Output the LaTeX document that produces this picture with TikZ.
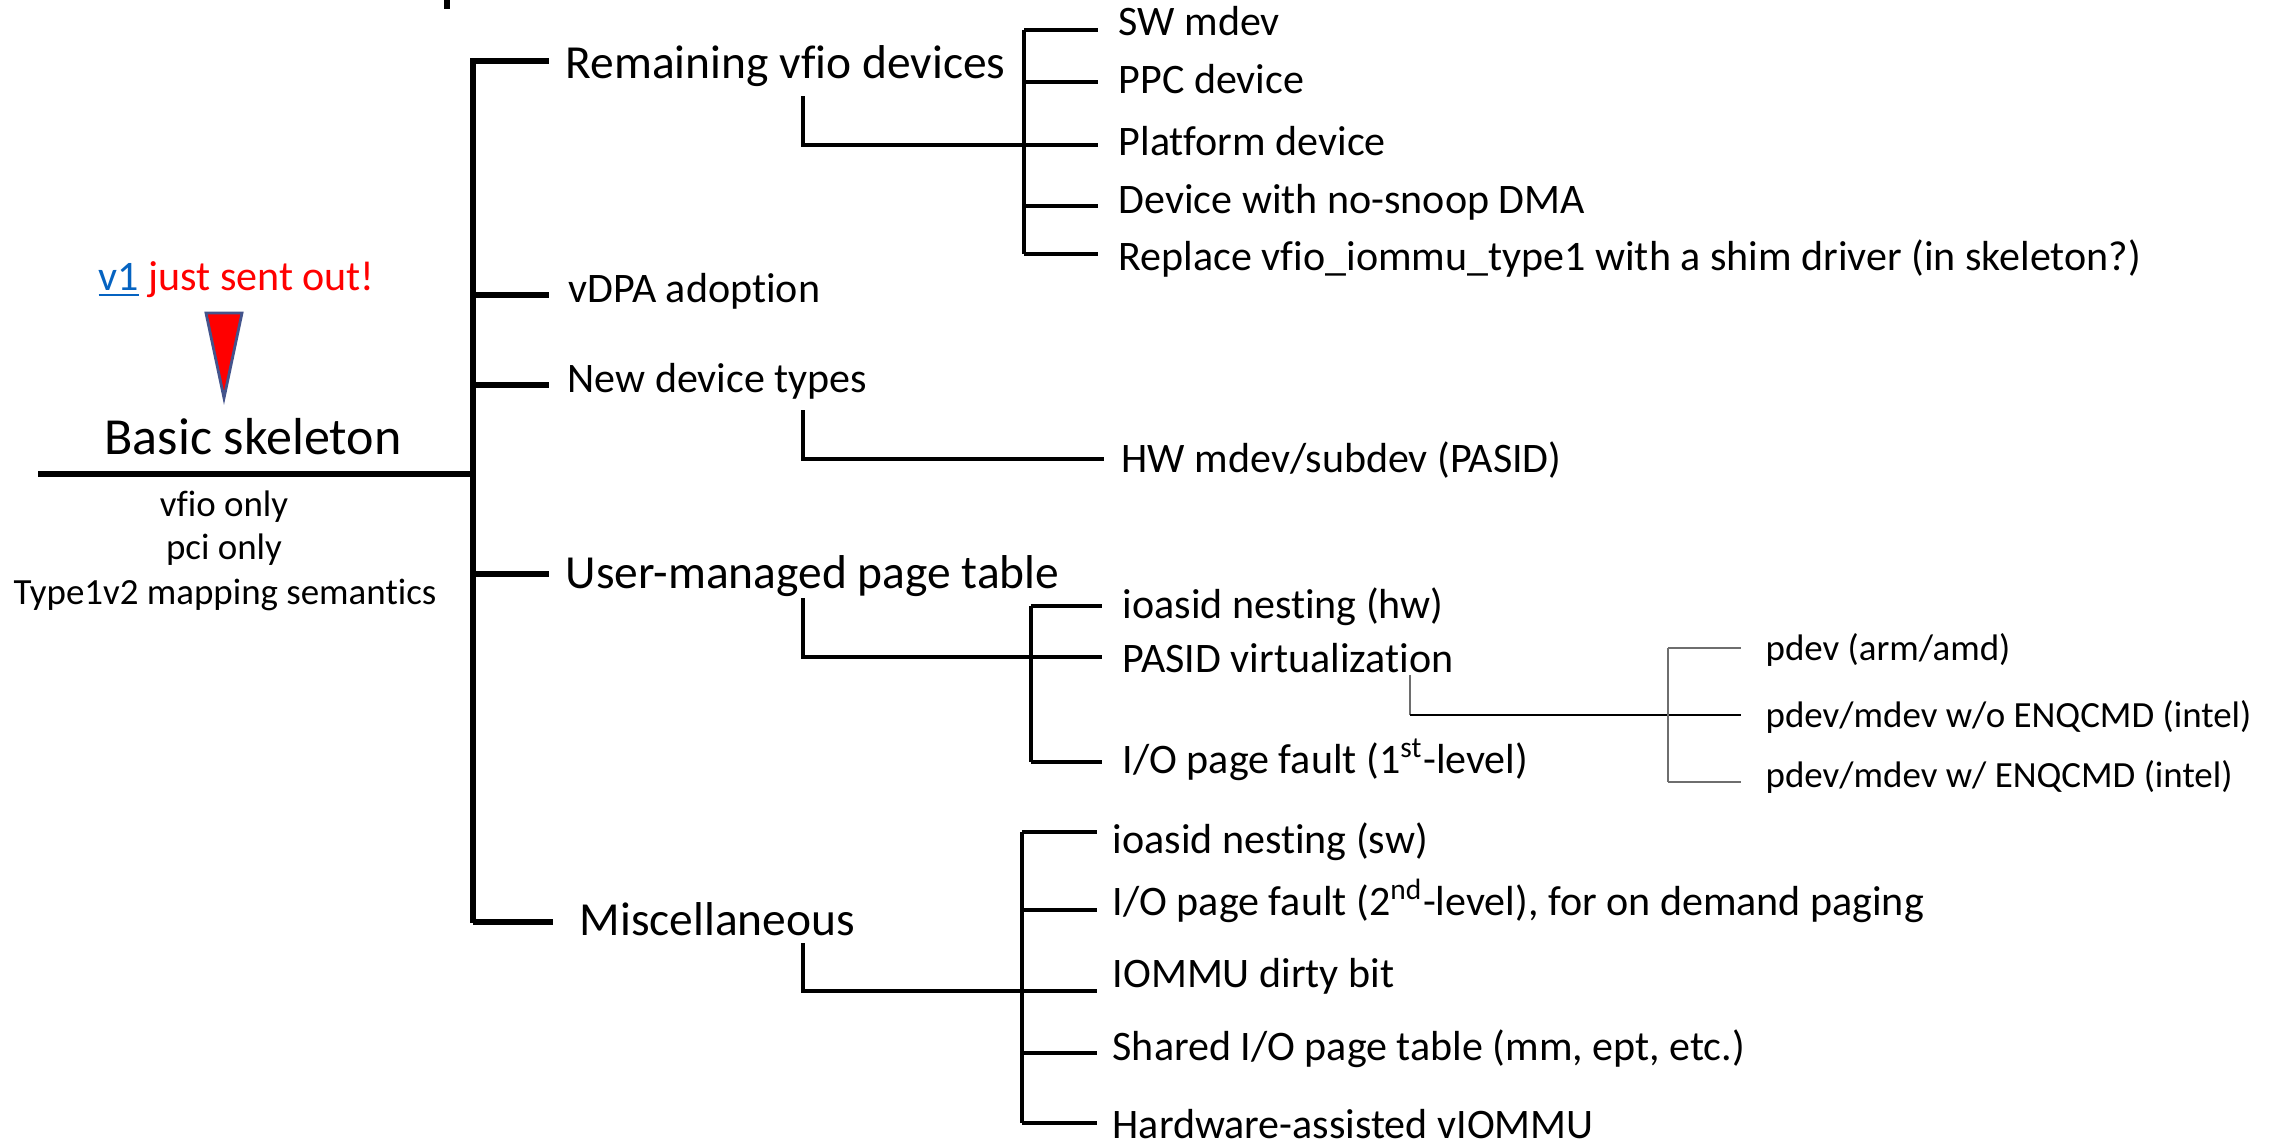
\documentclass[tikz,border=0pt]{standalone}
\usepackage{fontspec}
\setmainfont[Ligatures=NoCommon]{Carlito}
\definecolor{linkblue}{RGB}{5,99,193}
\definecolor{tipedge}{RGB}{68,84,140}
\definecolor{hairgray}{RGB}{110,110,110}

\begin{document}
\begin{tikzpicture}[x=0.01cm,y=-0.01cm,
  trunk/.style={line width=1.5pt},
  twig/.style={line width=1pt},
  hair/.style={line width=0.45pt},
  lbl/.style={anchor=base west,inner sep=0pt},
  huge lbl/.style={lbl,font=\fontsize{14.8}{17}\selectfont},
  big lbl/.style={lbl,font=\fontsize{13.5}{16}\selectfont},
  mid lbl/.style={lbl,font=\fontsize{11.95}{14}\selectfont},
  small lbl/.style={lbl,font=\fontsize{10.5}{12}\selectfont}]
\useasboundingbox (0,0) rectangle (2277,1144);

% stub of the cut title
\coordinate (st0) at (447,0);
\coordinate (st1) at (447,9);
\draw[line width=1.6pt] (st0) -- (st1);

% basic skeleton
\coordinate (s0) at (38,474);
\coordinate (s1) at (473,474);
\draw[trunk] (s0) -- (s1);
\node[huge lbl,anchor=base] (basic) at (253,454) {Basic skeleton};
\node[small lbl,anchor=base] (vfio) at (224,516) {vfio only};
\node[small lbl,anchor=base] (pci) at (224,559) {pci only};
\node[small lbl,anchor=base] (type) at (225,604) {Type1v2 mapping semantics};

\node[mid lbl] (sent) at (98,290) {\textcolor{linkblue}{\underline{v1}} \textcolor{red}{just sent out!}};
\coordinate (tip0) at (206,313);
\coordinate (tip1) at (242,313);
\coordinate (tip2) at (224,398);
\draw[fill=red,draw=tipedge,line width=0.8pt,line join=miter] (tip0) -- (tip1) -- (tip2) -- cycle;

% main trunk
\coordinate (tt) at (473,58);
\coordinate (tb) at (473,923);
\draw[trunk] (tt) -- (tb);

\coordinate (b1) at (473,61);  \coordinate (e1) at (549,61);
\coordinate (b2) at (473,295); \coordinate (e2) at (549,295);
\coordinate (b3) at (473,385); \coordinate (e3) at (549,385);
\coordinate (b4) at (473,574); \coordinate (e4) at (549,574);
\coordinate (b5) at (473,922); \coordinate (e5) at (553,922);
\draw[trunk] (b1) -- (e1);
\draw[trunk] (b2) -- (e2);
\draw[trunk] (b3) -- (e3);
\draw[trunk] (b4) -- (e4);
\draw[trunk] (b5) -- (e5);

\node[big lbl] (rem) at (565,78) {Remaining vfio devices};
\node[mid lbl] (vdpa) at (568,302) {vDPA adoption};
\node[mid lbl] (newdev) at (567,392) {New device types};
\node[big lbl] (user) at (565,588) {User-managed page table};
\node[big lbl] (misc) at (579,935) {Miscellaneous};

% remaining vfio devices
\coordinate (ra) at (803,96);
\coordinate (rb) at (803,145);
\coordinate (rt) at (1024,30);
\coordinate (rm) at (1024,145);
\coordinate (rbt) at (1024,254);
\draw[twig] (ra) -- (rb) -- (rm);
\draw[twig] (rt) -- (rbt);
\draw[twig] (rt) -- (1098,30);
\draw[twig] (1024,82) -- (1098,82);
\draw[twig] (rm) -- (1098,145);
\draw[twig] (1024,206) -- (1098,206);
\draw[twig] (rbt) -- (1098,254);
\node[mid lbl] (swm) at (1118,35) {SW mdev};
\node[mid lbl] (ppc) at (1118,93) {PPC device};
\node[mid lbl] (plat) at (1118,155) {Platform device};
\node[mid lbl] (snoop) at (1118,213) {Device with no-snoop DMA};
\node[mid lbl] (shim) at (1118,270) {Replace vfio\_iommu\_type1 with a shim driver (in skeleton?)};

% new device types
\coordinate (na) at (803,410);
\coordinate (nb) at (803,459);
\coordinate (nc) at (1104,459);
\draw[twig] (na) -- (nb) -- (nc);
\node[mid lbl] (hwm) at (1121,472) {HW mdev/subdev (PASID)};

% user-managed page table
\coordinate (ua) at (803,598);
\coordinate (ub) at (803,657);
\coordinate (ut) at (1031,606);
\coordinate (um) at (1031,657);
\coordinate (ubt) at (1031,762);
\draw[twig] (ua) -- (ub) -- (um);
\draw[twig] (ut) -- (ubt);
\draw[twig] (ut) -- (1102,606);
\draw[twig] (um) -- (1102,657);
\draw[twig] (ubt) -- (1102,762);
\node[mid lbl] (nesthw) at (1122,618) {ioasid nesting (hw)};
\node[mid lbl] (pasid) at (1122,672) {PASID virtualization};
\node[mid lbl] (fault1) at (1122,773) {I/O page fault (1\textsuperscript{st}-level)};

% pasid virtualization
\coordinate (pa) at (1410,675);
\coordinate (pb) at (1410,715);
\coordinate (pt) at (1668,648);
\coordinate (pm) at (1668,715);
\coordinate (pbt) at (1668,782);
\draw[hair,hairgray] (pa) -- (pb);
\draw[hair] (pb) -- (1741,715);
\draw[hair,hairgray] (pt) -- (pbt);
\draw[hair,hairgray] (pt) -- (1741,648);
\draw[hair,hairgray] (pbt) -- (1741,782);
\node[small lbl] (arm) at (1765,660) {pdev (arm/amd)};
\node[small lbl] (woenq) at (1765,727) {pdev/mdev w/o ENQCMD (intel)};
\node[small lbl] (wenq) at (1765,787) {pdev/mdev w/ ENQCMD (intel)};

% miscellaneous
\coordinate (ma) at (803,943);
\coordinate (mb) at (803,991);
\coordinate (mt) at (1022,832);
\coordinate (mm) at (1022,991);
\coordinate (mbt) at (1022,1123);
\draw[twig] (ma) -- (mb) -- (mm);
\draw[twig] (mt) -- (mbt);
\draw[twig] (mt) -- (1097,832);
\draw[twig] (1022,910) -- (1097,910);
\draw[twig] (mm) -- (1097,991);
\draw[twig] (1022,1053) -- (1097,1053);
\draw[twig] (mbt) -- (1097,1123);
\node[mid lbl] (nestsw) at (1112,853) {ioasid nesting (sw)};
\node[mid lbl] (fault2) at (1112,915) {I/O page fault (2\textsuperscript{nd}-level), for on demand paging};
\node[mid lbl] (dirty) at (1112,987) {IOMMU dirty bit};
\node[mid lbl] (shared) at (1112,1060) {Shared I/O page table (mm, ept, etc.)};
\node[mid lbl] (viommu) at (1112,1138) {Hardware-assisted vIOMMU};
\end{tikzpicture}
\end{document}
